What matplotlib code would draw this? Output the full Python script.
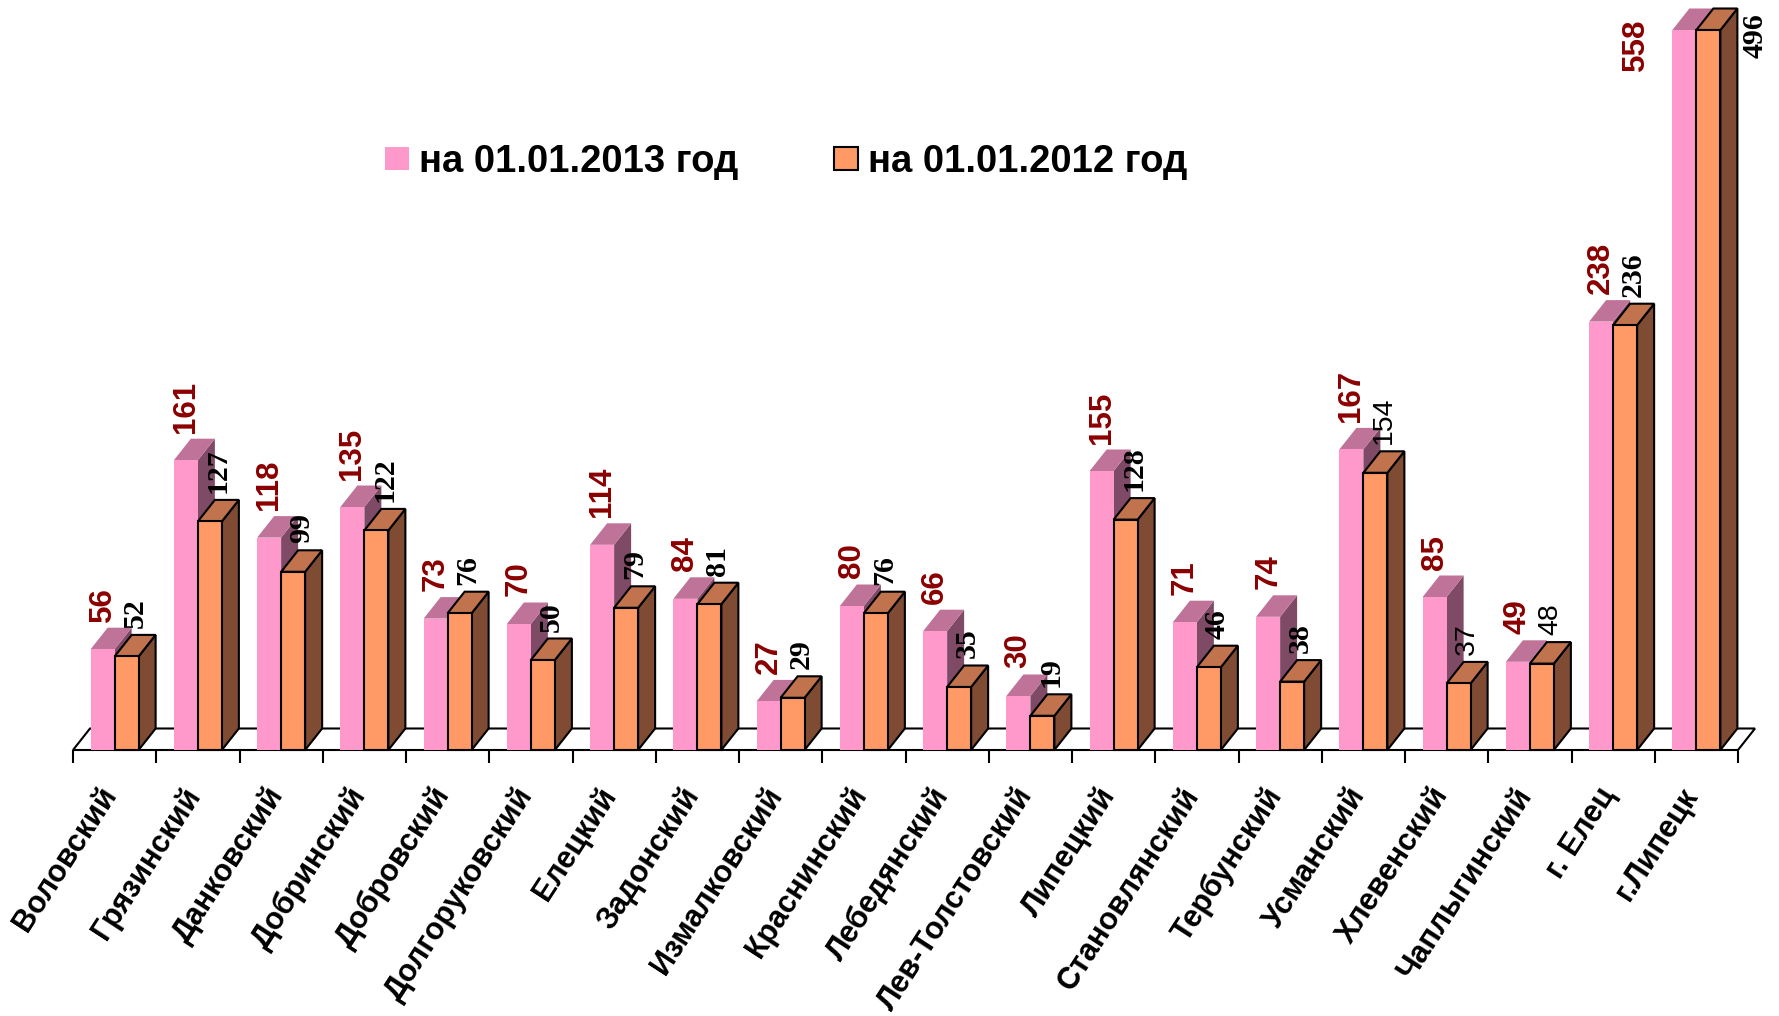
import numpy as np
import matplotlib
matplotlib.use("Agg")
import matplotlib.pyplot as plt
from matplotlib.patches import Polygon, Patch

# districts of the region
categories = ["Воловский", "Грязинский", "Данковский", "Добринский", "Добровский",
              "Долгоруковский", "Елецкий", "Задонский", "Измалковский", "Краснинский",
              "Лебедянский", "Лев-Толстовский", "Липецкий", "Становлянский", "Тербунский",
              "Усманский", "Хлевенский", "Чаплыгинский", "г. Елец", "г.Липецк"]
vals_2013 = [56, 161, 118, 135, 73, 70, 114, 84, 27, 80, 66, 30, 155, 71, 74, 167, 85, 49, 238, 558]
vals_2012 = [52, 127, 99, 122, 76, 50, 79, 81, 29, 76, 35, 19, 128, 46, 38, 154, 37, 48, 236, 496]
series_names = ["на 01.01.2013 год", "на 01.01.2012 год"]

YMAX = 400  # value axis is cut at 400, the Lipetsk bars are clipped

# colours: front, top, side
PINK = ("#FF99CC", "#C07399", "#7F4A66")
ORANGE = ("#FF9966", "#C0734D", "#7F4C33")
LBL_2013 = "#8B0000"
# a few 2012 labels in the original are set in a sans font
sans_2012 = {15, 16, 17}

W_PX, H_PX = 1779, 1016
fig = plt.figure(figsize=(W_PX / 100, H_PX / 100), dpi=100)
# plot area in pixels: x from 73 to 1738, y=0 at 750, y=400 at 30
ax = fig.add_axes([73 / W_PX, (H_PX - 750) / H_PX, (1738 - 73) / W_PX, 720 / H_PX])
n = len(categories)
ax.set_xlim(-0.5, n - 0.5)
ax.set_ylim(0, YMAX)
for s in ax.spines.values():
    s.set_visible(False)
ax.set_yticks([])

px_x = (1738 - 73) / n      # pixels per category
px_y = 720 / YMAX           # pixels per value unit
dxd = 17 / px_x             # depth offset in data units
dyd = 21.5 / px_y
w = 24 / px_x               # bar width

# floor
floor = Polygon([(-0.5, 0), (n - 0.5, 0), (n - 0.5 + dxd, dyd), (-0.5 + dxd, dyd)],
                closed=True, facecolor="white", edgecolor="black", lw=1.5,
                zorder=1, clip_on=False, joinstyle="miter")
ax.add_patch(floor)


def bar3d(x0, h, cols, edge):
    ec = "black" if edge else "none"
    lw = 1.5 if edge else 0
    side = [(x0 + w, 0), (x0 + w + dxd, dyd), (x0 + w + dxd, h + dyd), (x0 + w, h)]
    top = [(x0, h), (x0 + w, h), (x0 + w + dxd, h + dyd), (x0 + dxd, h + dyd)]
    front = [(x0, 0), (x0 + w, 0), (x0 + w, h), (x0, h)]
    for pts, c in ((side, cols[2]), (top, cols[1]), (front, cols[0])):
        ax.add_patch(Polygon(pts, closed=True, facecolor=c, edgecolor=ec, lw=lw,
                             zorder=3, clip_on=False, joinstyle="miter"))


x = np.arange(n)
for i in range(n):
    h1 = min(vals_2013[i], YMAX)
    h2 = min(vals_2012[i], YMAX)
    bar3d(x[i] - w, h1, PINK, False)
    bar3d(x[i], h2, ORANGE, True)

    pink_kw = dict(textcoords="offset pixels", rotation=90, ha="center",
                   color=LBL_2013, fontsize=22.5, fontweight="bold",
                   family="Liberation Sans", zorder=5, annotation_clip=False)
    if vals_2013[i] > YMAX:
        ax.annotate(str(vals_2013[i]), xy=(x[i] - w, h1), xytext=(-36, 12), va="top", **pink_kw)
    else:
        ax.annotate(str(vals_2013[i]), xy=(x[i] - w / 2, h1 + dyd), xytext=(0, 6), va="bottom", **pink_kw)

    if i in sans_2012:
        fam, fs, fw = "Liberation Sans", 20.5, "normal"
    else:
        fam, fs, fw = "Liberation Serif", 21.5, "bold"
    orange_kw = dict(textcoords="offset pixels", rotation=90, ha="center", color="black",
                     fontsize=fs, fontweight=fw, family=fam, zorder=5, annotation_clip=False)
    if vals_2012[i] > YMAX:
        ax.annotate(str(vals_2012[i]), xy=(x[i] + w + dxd, h2), xytext=(18, 17), va="top", **orange_kw)
    else:
        ax.annotate(str(vals_2012[i]), xy=(x[i] + w / 2 + dxd / 2, h2 + dyd), xytext=(0, 7),
                    va="bottom", **orange_kw)

    # category label
    ax.annotate(categories[i], xy=(x[i], 0), xytext=(-4, -40), textcoords="offset pixels",
                rotation=57, rotation_mode="anchor", ha="right", va="center",
                fontsize=22, fontweight="bold", family="Liberation Sans",
                annotation_clip=False)

# boundary ticks below the floor
ax.set_xticks(np.arange(-0.5, n, 1.0))
ax.set_xticklabels([])
ax.tick_params(axis="x", length=9, width=1.5, direction="out", color="black")

handles = [Patch(facecolor=PINK[0], edgecolor="none"),
           Patch(facecolor=ORANGE[0], edgecolor="black", lw=1.5)]
leg = fig.legend(handles, series_names, loc="upper left", ncol=2, frameon=False,
                 bbox_to_anchor=(385 / W_PX, 1 - 144 / H_PX), borderpad=0, borderaxespad=0,
                 prop={"family": "Liberation Sans", "weight": "bold", "size": 27.5},
                 handlelength=0.63, handleheight=0.55, handletextpad=0.26, columnspacing=2.5)

fig.savefig("out.png", dpi=100)
